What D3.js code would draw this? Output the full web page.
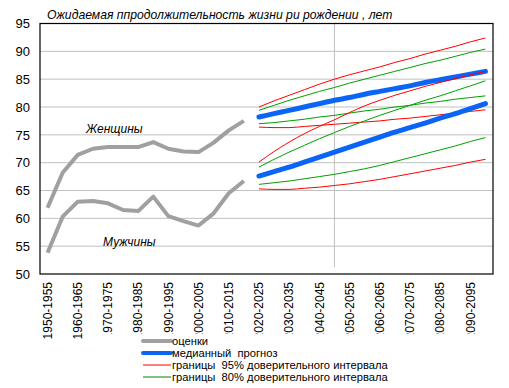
<!DOCTYPE html>
<html><head><meta charset="utf-8">
<script src="https://cdn.jsdelivr.net/npm/d3@7"></script>
<style>body{margin:0;background:#fff}svg{display:block;font-family:Arial,"Liberation Sans",sans-serif}</style>
</head><body><svg id="c" width="509" height="388"></svg>
<script>
const periods = [];
for (let y = 1950; y < 2100; y += 5) periods.push(y + "-" + (y + 5));
const tickLabels = periods.filter((d, i) => i % 2 === 0);
const yTicks = [50, 55, 60, 65, 70, 75, 80, 85, 90, 95];
const title = "Ожидаемая ппродолжительность жизни ри рождении , лет";

const estWomen = [61.9, 68.2, 71.4, 72.5, 72.8, 72.8, 72.8, 73.7, 72.5, 72.0, 71.9, 73.6, 75.8, 77.5];
const estMen   = [53.8, 60.3, 63.0, 63.1, 62.7, 61.5, 61.3, 63.9, 60.4, 59.5, 58.7, 60.9, 64.5, 66.7];

const medWomen  = [78.2, 78.8, 79.4, 80.0, 80.6, 81.2, 81.7, 82.3, 82.8, 83.3, 83.8, 84.4, 84.9, 85.4, 85.9, 86.4];
const hi95Women = [80.0, 81.1, 82.1, 83.1, 84.1, 85.0, 85.8, 86.5, 87.2, 88.0, 88.7, 89.5, 90.2, 90.9, 91.7, 92.4];
const hi80Women = [79.4, 80.3, 81.2, 82.0, 82.8, 83.5, 84.3, 85.0, 85.7, 86.4, 87.1, 87.8, 88.4, 89.1, 89.8, 90.4];
const lo80Women = [77.0, 77.2, 77.5, 77.8, 78.2, 78.5, 78.9, 79.3, 79.6, 80.0, 80.3, 80.7, 81.0, 81.4, 81.7, 82.0];
const lo95Women = [76.4, 76.3, 76.3, 76.5, 76.7, 76.9, 77.1, 77.3, 77.5, 77.8, 78.0, 78.3, 78.6, 78.9, 79.2, 79.5];

const medMen  = [67.6, 68.4, 69.2, 70.1, 71.0, 71.9, 72.8, 73.7, 74.6, 75.5, 76.3, 77.1, 78.0, 78.8, 79.7, 80.6];
const hi95Men = [70.1, 72.0, 73.7, 75.2, 76.5, 77.7, 79.0, 80.2, 81.2, 82.1, 82.9, 83.7, 84.4, 85.1, 85.8, 86.4];
const hi80Men = [69.2, 70.6, 71.9, 73.1, 74.3, 75.4, 76.5, 77.5, 78.5, 79.4, 80.3, 81.2, 82.0, 82.9, 83.8, 84.7];
const lo80Men = [66.1, 66.4, 66.7, 67.1, 67.5, 67.9, 68.4, 68.9, 69.5, 70.2, 70.9, 71.6, 72.3, 73.0, 73.8, 74.5];
const lo95Men = [65.3, 65.2, 65.2, 65.4, 65.6, 65.9, 66.2, 66.6, 67.0, 67.5, 68.0, 68.5, 69.0, 69.5, 70.1, 70.6];

const legendItems = [
  {label: "оценки", color: "#a0a0a0", w: 4},
  {label: "медианный  прогноз", color: "#0a64f5", w: 4},
  {label: "границы  95% доверительного интервала", color: "#ff0000", w: 1},
  {label: "границы  80% доверительного интервала", color: "#008000", w: 1}
];

const svg = d3.select("#c");
const L = 40, R = 493, T = 23.5, B = 274;
const x = d3.scaleBand().domain(periods).range([L, R]).padding(0);
const cx = d => x(d) + x.bandwidth() / 2;
const y = d3.scaleLinear().domain([50, 95]).range([B, T]);

// gridlines
svg.append("g").selectAll("line").data(yTicks.slice(1, -1)).join("line")
  .attr("x1", L).attr("x2", R).attr("y1", d => y(d)).attr("y2", d => y(d))
  .attr("stroke", "#c0c0c0").attr("stroke-width", 1);
svg.append("line").attr("x1", cx("2045-2050")).attr("x2", cx("2045-2050"))
  .attr("y1", T).attr("y2", B - 7).attr("stroke", "#c0c0c0");

// axes
const yAxis = svg.append("g").attr("transform", `translate(${L},0)`)
  .call(d3.axisLeft(y).tickValues(yTicks).tickSize(0).tickPadding(10));
yAxis.select(".domain").remove();
yAxis.selectAll("text").attr("font-size", 13).attr("fill", "#000").attr("font-family", "Arial, 'Liberation Sans', sans-serif");

const xAxis = svg.append("g").attr("transform", `translate(0,${B})`)
  .call(d3.axisBottom(x).tickValues(tickLabels).tickSize(0));
xAxis.select(".domain").remove();
xAxis.selectAll("text").attr("font-size", 12).attr("fill", "#000")
  .attr("font-family", "Arial, 'Liberation Sans', sans-serif")
  .attr("text-anchor", "end").attr("dy", "0.35em")
  .attr("transform", "translate(0,8) rotate(-90)").attr("x", 0).attr("y", 0);

// lines
const estLine = d3.line().x((d, i) => cx(periods[i])).y(d => y(d));
const fLine = d3.line().x((d, i) => cx(periods[i + 14])).y(d => y(d)).curve(d3.curveMonotoneX);

[estWomen, estMen].forEach(s => svg.append("path").attr("d", estLine(s))
  .attr("fill", "none").attr("stroke", "#a0a0a0").attr("stroke-width", 4).attr("stroke-linejoin", "round"));

const bands = [
  [lo95Women, "#ff0000"], [lo95Men, "#ff0000"],
  [lo80Women, "#00a000"], [lo80Men, "#00a000"],
  [hi80Women, "#00a000"], [hi80Men, "#00a000"]
];
bands.forEach(([s, c]) => svg.append("path").attr("d", fLine(s))
  .attr("fill", "none").attr("stroke", c).attr("stroke-width", 1));
[medWomen, medMen].forEach(s => svg.append("path").attr("d", fLine(s))
  .attr("fill", "none").attr("stroke", "#0a64f5").attr("stroke-width", 5).attr("stroke-linecap", "round"));
[hi95Women, hi95Men].forEach(s => svg.append("path").attr("d", fLine(s))
  .attr("fill", "none").attr("stroke", "#ff0000").attr("stroke-width", 1));

// frame
svg.append("rect").attr("x", L).attr("y", T).attr("width", R - L).attr("height", B - T)
  .attr("fill", "none").attr("stroke", "#000").attr("stroke-width", 1.2);

// annotations
svg.append("text").attr("x", 86).attr("y", 133).attr("font-size", 12).attr("font-style", "italic").text("Женщины");
svg.append("text").attr("x", 103).attr("y", 246).attr("font-size", 12).attr("font-style", "italic").text("Мужчины");
svg.append("text").attr("x", 47).attr("y", 19).attr("font-size", 12.2).attr("font-style", "italic").text(title);

// legend
const lg = svg.append("g");
lg.append("rect").attr("x", 100).attr("y", 334).attr("width", 395).attr("height", 54).attr("fill", "#fff");
legendItems.forEach((d, i) => {
  const yy = 341 + i * 12;
  lg.append("line").attr("x1", 143).attr("x2", 171).attr("y1", yy).attr("y2", yy)
    .attr("stroke", d.color).attr("stroke-width", d.w).attr("stroke-linecap", d.w > 1 ? "round" : "butt");
  lg.append("text").attr("x", 172).attr("y", yy).attr("dy", "0.35em").attr("font-size", 11.2)
    .attr("xml:space", "preserve").style("white-space", "pre").text(d.label);
});
</script></body></html>
